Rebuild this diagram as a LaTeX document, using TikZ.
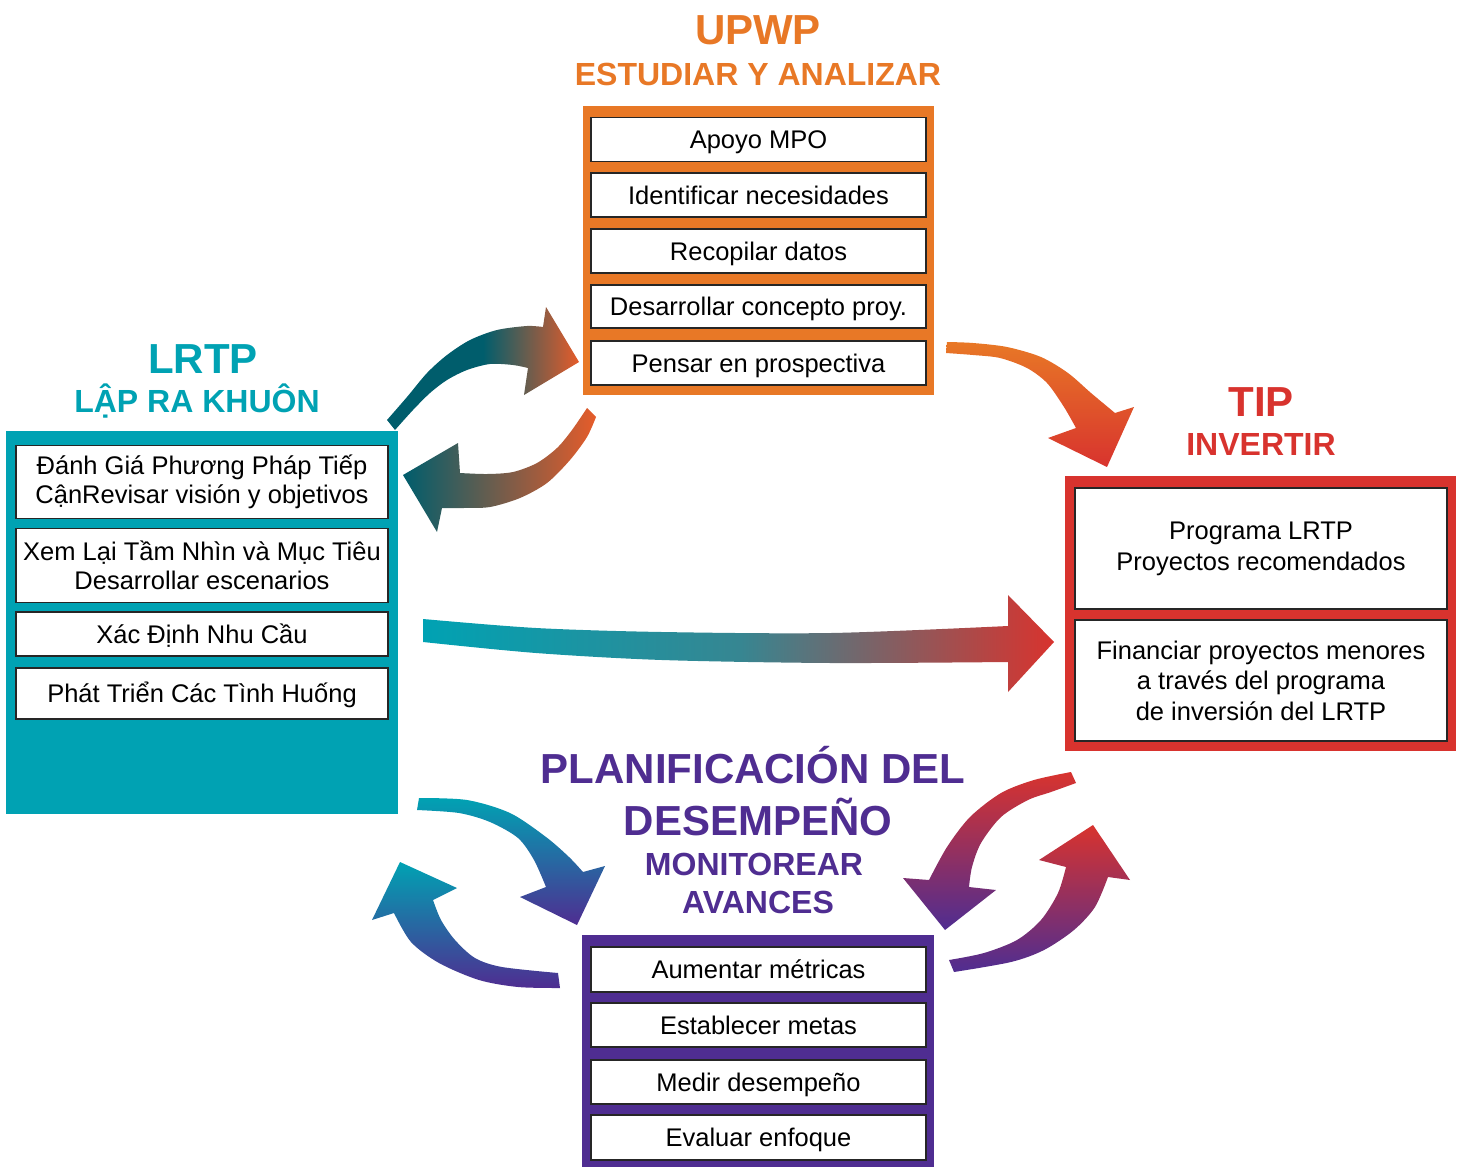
\documentclass[tikz,border=0pt]{standalone}
\usepackage{fontspec}
\setmainfont{Liberation Sans}
\usetikzlibrary{positioning}
\definecolor{upwpc}{RGB}{232,120,38}
\definecolor{lrtpc}{RGB}{0,162,179}
\definecolor{tipc}{RGB}{216,51,46}
\definecolor{perfc}{RGB}{79,45,145}
\definecolor{dteal}{RGB}{0,93,108}
\definecolor{arrowor}{RGB}{230,92,42}

\begin{document}
\begin{tikzpicture}[x=1pt,y=-1pt,
          every node/.style={font=\fontsize{25.5}{29.5}\selectfont},
          frame/.style={fill=#1,inner sep=0pt},
          item/.style={draw=black!85,fill=white,line width=1.3pt,align=center,inner sep=0pt},
          one/.style={item,text height=18.3pt,text depth=0pt},
          title/.style={font=\fontsize{42}{42}\selectfont\bfseries,anchor=base},
          subtitle/.style={font=\fontsize{32}{32}\selectfont\bfseries,anchor=base},
        ]
        \useasboundingbox (0,0) rectangle (1461,1167);

        % UPWP
        \node[title,text=upwpc]    (upwpt) at (758,44) {UPWP};
        \node[subtitle,text=upwpc] (upwps) at (758,85) {ESTUDIAR Y ANALIZAR};
        \node[frame=upwpc,minimum width=351pt,minimum height=289pt] (upwp) at (758.5,250.5) {};
        \node[one,minimum width=335pt,minimum height=44pt] (u1) at (758.5,139.5) {Apoyo MPO};
        \node[one,minimum width=335pt,minimum height=44pt] (u2) at (758.5,195)   {Identificar necesidades};
        \node[one,minimum width=335pt,minimum height=44pt] (u3) at (758.5,251)   {Recopilar datos};
        \node[one,minimum width=335pt,minimum height=43pt] (u4) at (758.5,306.5) {Desarrollar concepto proy.};
        \node[one,minimum width=335pt,minimum height=44pt] (u5) at (758.5,363)   {Pensar en prospectiva};

        % LRTP
        \node[title,text=lrtpc]    (lrtpt) at (203,373) {LRTP};
        \node[subtitle,text=lrtpc] (lrtps) at (197,412) {LẬP RA KHUÔN};
        \node[frame=lrtpc,minimum width=392pt,minimum height=383pt] (lrtp) at (202,622.5) {};
        \node[item,minimum width=372pt,minimum height=73pt] (l1) at (202,482) {Đánh Giá Phương Pháp Tiếp\\CậnRevisar visión y objetivos};
        \node[item,minimum width=372pt,minimum height=74pt] (l2) at (202,565.5) {Xem Lại Tầm Nhìn và Mục Tiêu\\Desarrollar escenarios};
        \node[one,minimum width=372pt,minimum height=44pt] (l3) at (202,634)   {Xác Định Nhu Cầu};
        \node[one,minimum width=372pt,minimum height=51pt] (l4) at (202,693.5) {Phát Triển Các Tình Huống};

        % TIP
        \node[title,text=tipc]    (tipt) at (1261,416) {TIP};
        \node[subtitle,text=tipc] (tips) at (1261,455) {INVERTIR};
        \node[frame=tipc,minimum width=391pt,minimum height=275pt] (tip) at (1260.5,613.5) {};
        \node[item,minimum width=372pt,minimum height=121pt,font=\fontsize{25.5}{31}\selectfont] (t1) at (1261,548.5) {Programa LRTP\\Proyectos recomendados};
        \node[item,minimum width=372pt,minimum height=121pt,font=\fontsize{25.5}{30.5}\selectfont] (t2) at (1261,680.5) {Financiar proyectos menores\\a través del programa\\de inversión del LRTP};

        % desempeno
        \node[title,text=perfc]    (perft)  at (753,783) {PLANIFICACIÓN DEL};
        \node[title,text=perfc]    (perft2) at (758,835) {DESEMPEÑO};
        \node[subtitle,text=perfc] (perfs)  at (754,875) {MONITOREAR};
        \node[subtitle,text=perfc] (perfs2) at (758,913) {AVANCES};
        \node[frame=perfc,minimum width=352pt,minimum height=232pt] (perf) at (758,1051) {};
        \node[one,minimum width=335pt,minimum height=45pt] (p1) at (758.5,969.5)  {Aumentar métricas};
        \node[one,minimum width=335pt,minimum height=44pt] (p2) at (758.5,1025)   {Establecer metas};
        \node[one,minimum width=335pt,minimum height=44pt] (p3) at (758.5,1082)   {Medir desempeño};
        \node[one,minimum width=335pt,minimum height=45pt] (p4) at (758.5,1137.5) {Evaluar enfoque};

        % arrows
        \shade[left color=dteal,right color=arrowor,middle color=dteal]
          plot[smooth] coordinates {(387,420) (407,397) (427,373) (447,355) (470,340) (497,330) (527,326) (543,327)}
          -- (546,307) -- (579,362) -- (524,395) --
          plot[smooth] coordinates {(528,368) (513,365) (490,364) (467,370) (447,380) (430,393) (413,410) (395,430)} -- cycle;
        \shade[left color=dteal,right color=arrowor]
          plot[smooth] coordinates {(587,408) (572,430) (557,448) (537,463) (513,472) (487,474) (460,473)}
          -- (458,443) -- (403,475) -- (437,532) --
          plot[smooth] coordinates {(442,508) (463,508) (490,507) (520,498) (547,483) (570,460) (587,437) (596,417)} -- cycle;
        \shade[top color=upwpc,bottom color=tipc]
          plot[smooth] coordinates {(947,342) (973,343) (1007,347) (1041,357) (1068,373) (1091,393) (1115,413)}
          -- (1134,407) -- (1107,467) -- (1048,438) --
          plot[smooth] coordinates {(1076,428) (1064,407) (1047,383) (1027,368) (1000,358) (973,355) (946,353)} -- cycle;
        \shade[left color=lrtpc,right color=tipc,middle color=lrtpc!75!tipc]
          plot[smooth] coordinates {(423,619) (536,628) (662,632) (831,633) (1008,626)}
          -- (1008,595) -- (1054,642) -- (1008,692) --
          plot[smooth] coordinates {(1008,662) (831,663) (662,660) (536,653) (423,642)} -- cycle;
        \shade[top color=lrtpc,bottom color=perfc]
          plot[smooth] coordinates {(419,798) (467,800) (510,813) (546,837) (569,857) (583,872)}
          -- (605,866) -- (577,925) -- (520,897) --
          plot[smooth] coordinates {(546,887) (534,860) (518,838) (490,822) (459,813) (417,810)} -- cycle;
        \shade[top color=lrtpc,bottom color=perfc]
          plot[smooth] coordinates {(558,973) (502,967) (475,958) (455,940) (441,920) (433,900)}
          -- (457,888) -- (400,862) -- (372,920) --
          plot[smooth] coordinates {(394,913) (411,942) (439,963) (479,980) (518,987) (560,988)} -- cycle;
        \shade[top color=tipc,bottom color=perfc]
          plot[smooth] coordinates {(1071,772) (1034,780) (1001,793) (970,817) (947,847) (929,880)}
          -- (903,878) -- (945,930) -- (996,890) --
          plot[smooth] coordinates {(969,887) (972,867) (981,843) (1001,817) (1028,800) (1051,792) (1076,783)} -- cycle;
        \shade[top color=tipc,bottom color=perfc]
          plot[smooth] coordinates {(949,960) (984,953) (1017,940) (1041,920) (1058,893) (1066,867)}
          -- (1039,860) -- (1093,825) -- (1130,880) --
          plot[smooth] coordinates {(1108,877) (1095,907) (1074,930) (1044,950) (1011,962) (954,972)} -- cycle;
      \end{tikzpicture}
\end{document}
